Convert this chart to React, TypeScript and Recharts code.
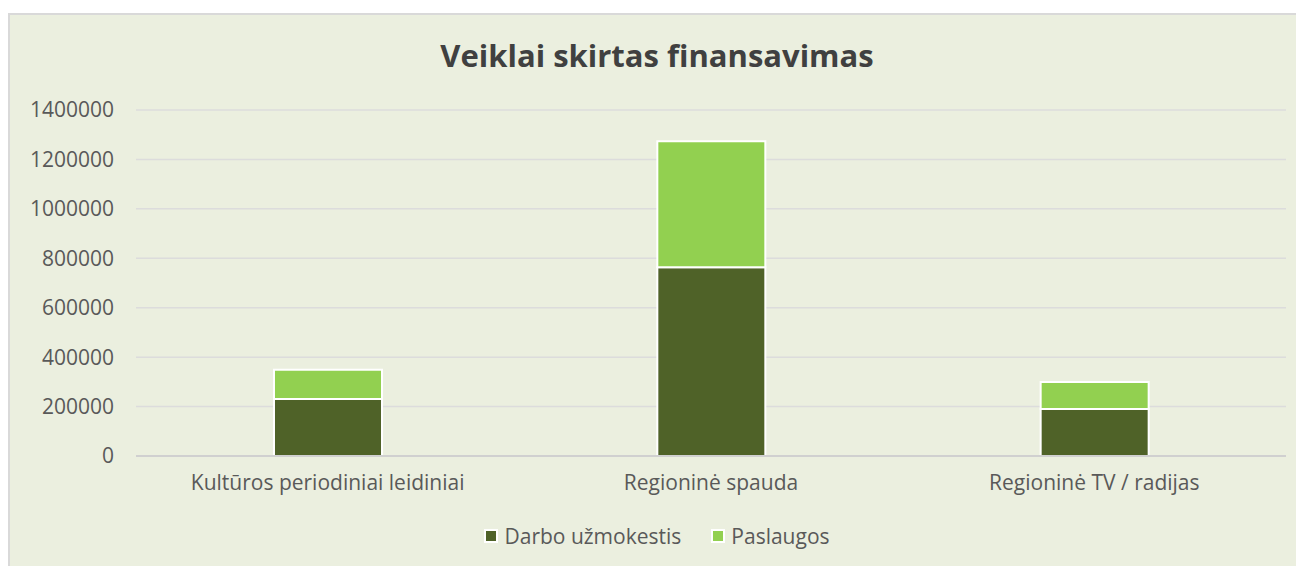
import { BarChart, Bar, XAxis, YAxis, CartesianGrid } from "recharts"

// Funding per activity area
const CATEGORIES = [
  "Kultūros periodiniai leidiniai",
  "Regioninė spauda",
  "Regioninė TV / radijas",
]
const SALARIES = [231000, 764000, 190000]
const SERVICES = [118000, 510000, 109000]
const Y_TICKS = [0, 200000, 400000, 600000, 800000, 1000000, 1200000, 1400000]

const SERIES = [
  { key: "salaries", name: "Darbo užmokestis", color: "#4F6228" },
  { key: "services", name: "Paslaugos", color: "#92D050" },
]

const FONT = "'Open Sans', sans-serif"
const TEXT = "#595959"

const data = CATEGORIES.map((name, i) => ({
  name,
  salaries: SALARIES[i],
  services: SERVICES[i],
}))

export default function App() {
  return (
    <div
      style={{
        position: "relative",
        marginTop: 5,
        width: 1294,
        height: 551,
        borderLeft: "2px solid #D9D9D9",
        borderTop: "2px solid #D9D9D9",
        background: "#EBEFDF",
        fontFamily: FONT,
      }}
    >
      <div
        style={{
          position: "absolute",
          top: 19,
          left: 0,
          width: 1294,
          textAlign: "center",
          fontSize: 31,
          fontWeight: 700,
          color: "#404040",
        }}
      >
        Veiklai skirtas finansavimas
      </div>

      <BarChart
        width={1294}
        height={551}
        data={data}
        margin={{ top: 95, right: 18, bottom: 80, left: 0 }}
        barCategoryGap="0%"
      >
        <CartesianGrid vertical={false} stroke="#DCDCDC" strokeWidth={1.5} />
        <XAxis
          dataKey="name"
          height={30}
          tickLine={false}
          axisLine={{ stroke: "#D0D0D0", strokeWidth: 2 }}
          tickMargin={13}
          tick={{ fill: TEXT, fontSize: 21, fontFamily: FONT }}
        />
        <YAxis
          width={126}
          domain={[0, 1400000]}
          ticks={Y_TICKS}
          interval={0}
          tickLine={false}
          axisLine={false}
          tickMargin={16}
          tick={{ fill: TEXT, fontSize: 21, fontFamily: FONT }}
        />
        {SERIES.map((s) => (
          <Bar
            key={s.key}
            dataKey={s.key}
            name={s.name}
            stackId="a"
            fill={s.color}
            stroke="#FFFFFF"
            strokeWidth={2}
            barSize={108}
            isAnimationActive={false}
          />
        ))}
      </BarChart>

      <div
        style={{
          position: "absolute",
          top: 507,
          left: 0,
          width: 1294,
          display: "flex",
          justifyContent: "center",
          gap: 30,
          fontSize: 21,
          color: TEXT,
        }}
      >
        {SERIES.map((s) => (
          <div key={s.key} style={{ display: "flex", alignItems: "center" }}>
            <span
              style={{
                width: 10,
                height: 10,
                background: s.color,
                border: "2px solid #FFFFFF",
                marginRight: 6,
              }}
            />
            <span>{s.name}</span>
          </div>
        ))}
      </div>
    </div>
  )
}
